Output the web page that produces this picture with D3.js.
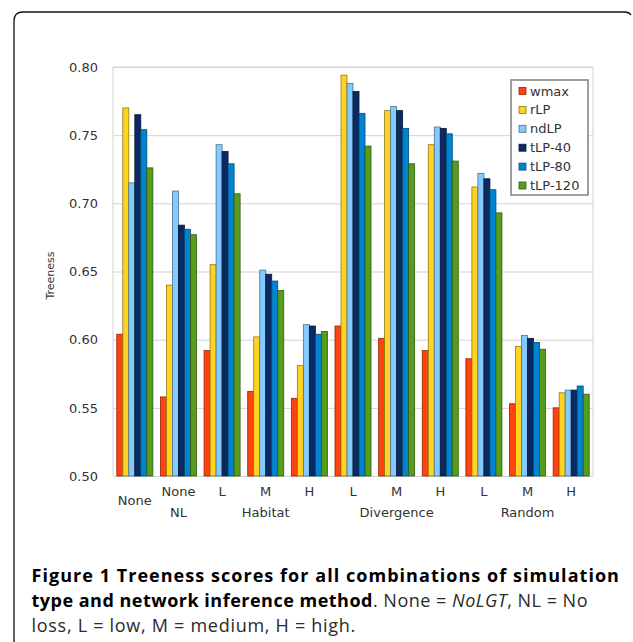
<!DOCTYPE html>
<html>
<head>
<meta charset="utf-8">
<script src="https://cdn.jsdelivr.net/npm/d3@7"></script>
<style>
  body { margin: 0; background: #fff; }
  svg { display: block; }
  .axis text { font-family: "DejaVu Sans", sans-serif; font-size: 13px; fill: #333; }
  .caption { font-family: "Open Sans", sans-serif; font-size: 18px; }
  .caption text { white-space: pre; }
</style>
</head>
<body>
<div id="chart"></div>
<script>
// categories (x axis), one entry per bar group
const groupLabels = [["None"], ["None", "NL"], ["L"], ["M"], ["H"], ["L"], ["M"], ["H"], ["L"], ["M"], ["H"]];
// second-level labels and the groups they span
const familyLabels = [
    { name: "Habitat", from: 2, to: 4 },
    { name: "Divergence", from: 5, to: 7 },
    { name: "Random", from: 8, to: 10 }
];
const series = ["wmax", "rLP", "ndLP", "tLP-40", "tLP-80", "tLP-120"];
const yTicks = [0.50, 0.55, 0.60, 0.65, 0.70, 0.75, 0.80];

// treeness per series, in group order
const wmax   = [0.604, 0.558, 0.592, 0.562, 0.557, 0.610, 0.601, 0.592, 0.586, 0.553, 0.550];
const rLP    = [0.770, 0.640, 0.655, 0.602, 0.581, 0.794, 0.768, 0.743, 0.712, 0.595, 0.561];
const ndLP   = [0.715, 0.709, 0.743, 0.651, 0.611, 0.788, 0.771, 0.756, 0.722, 0.603, 0.563];
const tLP40  = [0.765, 0.684, 0.738, 0.648, 0.610, 0.782, 0.768, 0.755, 0.718, 0.601, 0.563];
const tLP80  = [0.754, 0.681, 0.729, 0.643, 0.604, 0.766, 0.755, 0.751, 0.710, 0.598, 0.566];
const tLP120 = [0.726, 0.677, 0.707, 0.636, 0.606, 0.742, 0.729, 0.731, 0.693, 0.593, 0.560];
const values = [wmax, rLP, ndLP, tLP40, tLP80, tLP120];

// caption lines, split into styled runs
const captionLines = [
    [{ t: "Figure 1 Treeness scores for all combinations of simulation", b: true }],
    [{ t: "type and network inference method", b: true }, { t: ". None = " }, { t: "NoLGT", i: true }, { t: ", NL = No" }],
    [{ t: "loss, L = low, M = medium, H = high." }]
];

const COLORS = ["#ff420e", "#ffd320", "#83caff", "#0b2a60", "#0084d1", "#579d1c"];

const W = 633, H = 642;
const plot = { left: 113, right: 593, top: 67, bottom: 476 };

const svg = d3.select("#chart")
    .append("svg")
    .attr("width", W)
    .attr("height", H);

// page frame, only left + top edge are visible
svg.append("path")
    .attr("d", "M14,642 L14,21 Q14,12 23,12 L625,12 Q629,12 631,15")
    .attr("fill", "none")
    .attr("stroke", "#111")
    .attr("stroke-width", 1.3);

const groupIds = groupLabels.map((d, i) => i);

const x0 = d3.scaleBand()
    .domain(groupIds)
    .range([plot.left, plot.right])
    .paddingInner(0.174)
    .paddingOuter(0.087);

const x1 = d3.scaleBand()
    .domain(series)
    .range([0, x0.bandwidth()]);

const y = d3.scaleLinear()
    .domain([0.5, 0.8])
    .range([plot.bottom, plot.top]);

// grid + y labels
const yAxis = svg.append("g")
    .attr("class", "axis")
    .attr("transform", `translate(${plot.left},0)`)
    .call(d3.axisLeft(y)
        .tickValues(yTicks)
        .tickFormat(d3.format(".2f"))
        .tickSize(-(plot.right - plot.left))
        .tickPadding(15));
yAxis.select(".domain").remove();
yAxis.selectAll("line").attr("stroke", "#d3d3d3");

// plot frame (left, top, right)
svg.append("path")
    .attr("d", `M${plot.left},${plot.bottom} V${plot.top} H${plot.right} V${plot.bottom}`)
    .attr("fill", "none")
    .attr("stroke", "#d3d3d3");

svg.append("text")
    .attr("transform", `translate(54,${(plot.top + plot.bottom) / 2 + 4}) rotate(-90)`)
    .attr("text-anchor", "middle")
    .style("font-family", "DejaVu Sans, sans-serif")
    .style("font-size", "11px")
    .attr("fill", "#333")
    .text("Treeness");

// bars
const group = svg.append("g")
    .selectAll("g")
    .data(groupIds)
    .join("g")
    .attr("transform", i => `translate(${x0(i)},0)`);

group.selectAll("rect")
    .data(i => series.map((s, k) => ({ s, k, v: values[k][i] })))
    .join("rect")
    .attr("x", d => x1(d.s))
    .attr("width", x1.bandwidth())
    .attr("y", d => y(d.v))
    .attr("height", d => y(0.5) - y(d.v))
    .attr("fill", d => COLORS[d.k])
    .attr("stroke", d => d3.color(COLORS[d.k]).darker(1.6))
    .attr("stroke-width", 0.8);

// x labels
const xAxis = svg.append("g")
    .attr("class", "axis")
    .attr("transform", `translate(0,${plot.bottom})`)
    .call(d3.axisBottom(x0).tickSize(0).tickFormat(""));
xAxis.select(".domain").remove();

const inFamily = i => familyLabels.some(f => i >= f.from && i <= f.to);

xAxis.selectAll(".tick text")
    .attr("y", 0)
    .attr("dy", null)
    .each(function (i) {
        const lines = groupLabels[i];
        const t = d3.select(this);
        // a lone label with nothing under it sits between the two rows
        const y0 = (lines.length === 1 && !inFamily(i)) ? 29 : 20;
        lines.forEach((l, k) => {
            t.append("tspan")
                .attr("x", 0)
                .attr("y", y0 + k * 21)
                .text(l);
        });
    });

xAxis.selectAll(".family")
    .data(familyLabels)
    .join("text")
    .attr("class", "family")
    .attr("x", d => (x0(d.from) + x0(d.to) + x0.bandwidth()) / 2)
    .attr("y", 41)
    .attr("text-anchor", "middle")
    .text(d => d.name);

// legend
const legend = svg.append("g").attr("transform", "translate(511,80)");
legend.append("rect")
    .attr("width", 77)
    .attr("height", 115)
    .attr("fill", "#fff")
    .attr("stroke", "#808080")
    .attr("stroke-width", 1.5);
const item = legend.selectAll(".item")
    .data(series)
    .join("g")
    .attr("class", "item")
    .attr("transform", (d, k) => `translate(8,${11 + k * 18.9})`);
item.append("rect")
    .attr("x", 0)
    .attr("y", -3.5)
    .attr("width", 7)
    .attr("height", 7)
    .attr("fill", (d, k) => COLORS[k])
    .attr("stroke", (d, k) => d3.color(COLORS[k]).darker(1.6))
    .attr("stroke-width", 0.8);
item.append("text")
    .attr("x", 11)
    .attr("dy", "0.35em")
    .style("font-family", "DejaVu Sans, sans-serif")
    .style("font-size", "13px")
    .attr("fill", "#333")
    .text(d => d);

// caption: each line is stretched to the width it has in the printed figure
const CAPTION = { x: 31.5, y: 582, lineH: 25, ends: [620, 588, 356] };
const cap = svg.append("g").attr("class", "caption");
captionLines.forEach((runs, li) => {
    const nodes = runs.map(r => cap.append("text")
        .attr("y", CAPTION.y + li * CAPTION.lineH)
        .attr("xml:space", "preserve")
        .attr("font-weight", r.b ? "bold" : null)
        .attr("font-style", r.i ? "italic" : null)
        .attr("fill", r.b ? "#000" : "#2a2a2a")
        .text(r.t));
    const natural = d3.sum(nodes, n => n.node().getComputedTextLength());
    const chars = d3.sum(runs, r => r.t.length);
    const ls = (CAPTION.ends[li] - CAPTION.x - natural) / chars;
    let cx = CAPTION.x;
    nodes.forEach(n => {
        n.attr("letter-spacing", ls).attr("x", cx);
        cx += n.node().getComputedTextLength();
    });
});
</script>
</body>
</html>
